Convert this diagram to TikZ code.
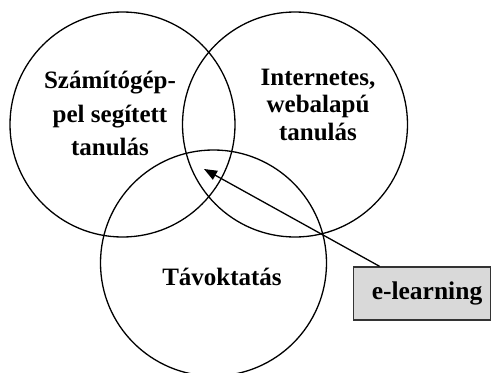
\documentclass[tikz,border=0pt]{standalone}
\usepackage{fontspec}
\setmainfont{Liberation Serif}
\usetikzlibrary{arrows.meta,calc}
\definecolor{boxfill}{HTML}{D9D9D9}
\definecolor{boxline}{HTML}{333333}
\begin{document}
\begin{tikzpicture}[x=1pt,y=-1pt,
  venn/.style={draw=black, line width=1.3pt, circle, inner sep=0pt, minimum size=#1},
  lbl/.style={anchor=base, inner sep=0pt, font=\fontsize{25}{29}\selectfont\bfseries},
  ebox/.style={draw=boxline, fill=boxfill, line width=1.3pt, rectangle,
    minimum width=137.5pt, minimum height=53pt, inner sep=0pt,
    font=\fontsize{25.5}{29}\selectfont\bfseries},
  pointer/.style={draw=black, line width=1.3pt, -{Triangle[length=13pt,width=10pt]}}]
\useasboundingbox (0,0) rectangle (492,372);
\node[venn=225pt] (A) at (122.5,124.5) {};
\node[venn=225pt] (B) at (295,124.5) {};
\node[venn=226pt] (C) at (213.5,263) {};
\node[lbl] (a1) at (110,88) {Számítógép-};
\node[lbl] (a2) at (110,122) {pel segített};
\node[lbl] (a3) at (110,155) {tanulás};
\node[lbl] (b1) at (318,85) {Internetes,};
\node[lbl] (b2) at (318,112.5) {webalapú};
\node[lbl] (b3) at (318,140) {tanulás};
\node[lbl] (c1) at (222,285) {Távoktatás};
\node[ebox] (E) at (422,293.5) {\hspace*{10pt}e-learning};
\coordinate (tip) at (204,169);
\draw[pointer] ($(E.north west)+(27,0)$) -- (tip);
\end{tikzpicture}
\end{document}
